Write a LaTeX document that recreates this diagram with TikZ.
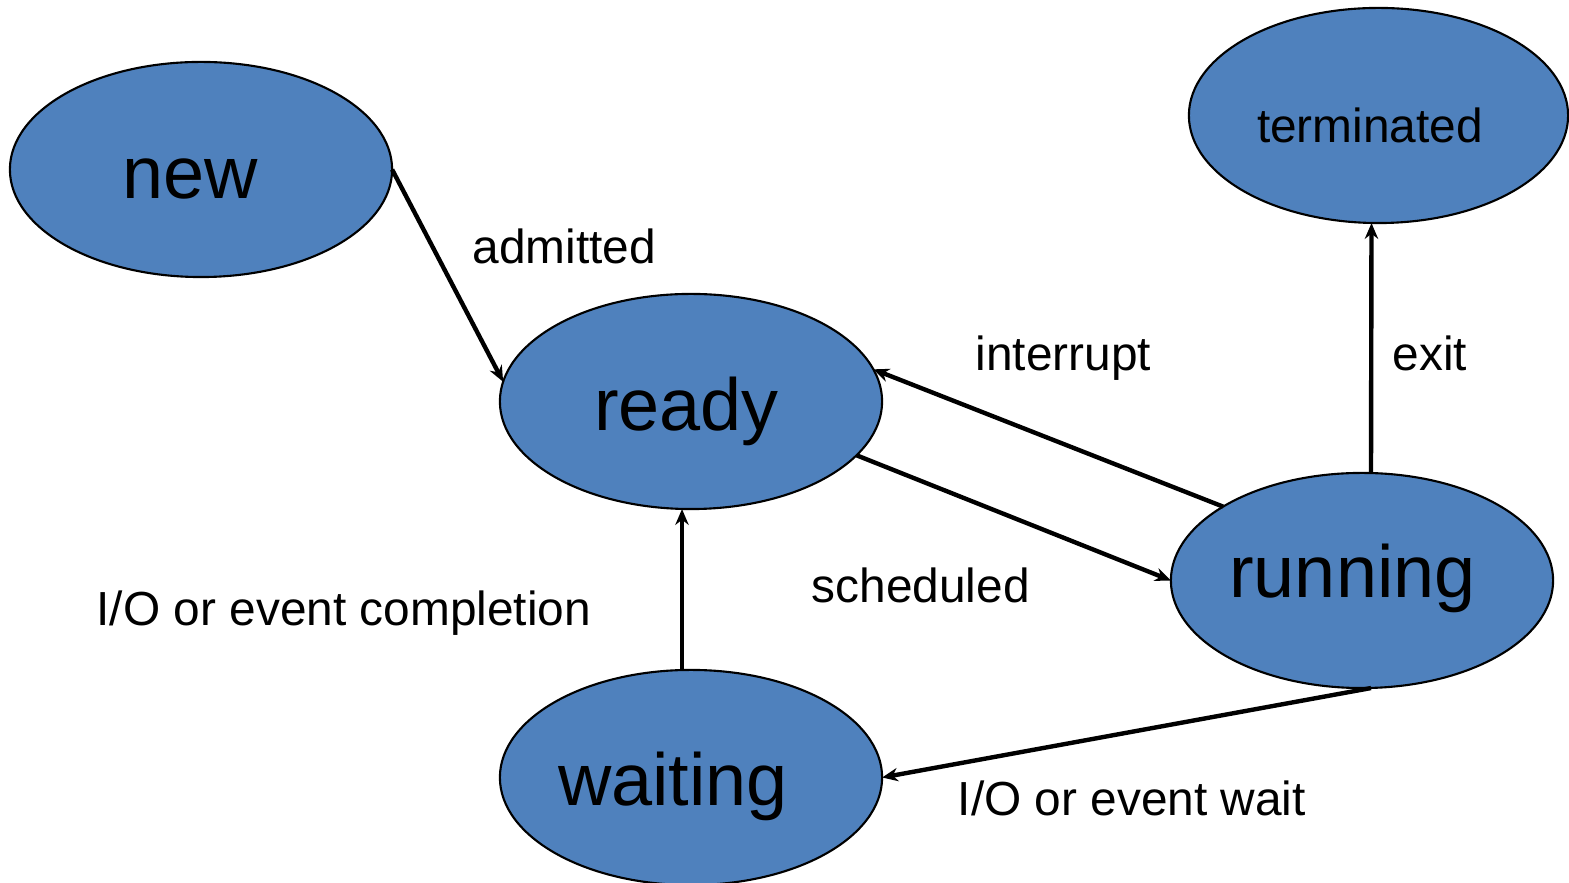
\documentclass[tikz,border=0pt]{standalone}
\usepackage{fontspec}
\setmainfont{Liberation Sans}
\usepackage{xcolor}
\usepackage{tikz}
\usetikzlibrary{shapes,arrows,positioning,calc,arrows.meta}
\definecolor{stateblue}{RGB}{79,129,189}

\begin{document}
\begin{tikzpicture}[x=0.01cm,y=-0.01cm,
    state/.style={ellipse, draw=black, line width=0.6pt, fill=stateblue,
        minimum width=3.82cm, minimum height=2.15cm, inner sep=0pt, outer sep=0pt},
    bigtext/.style={inner sep=0pt, text height=0pt, text depth=0pt, font=\fontsize{21}{21}\selectfont},
    smalltext/.style={inner sep=0pt, text height=0pt, text depth=0pt, font=\fontsize{13.6}{13.6}\selectfont},
    trans/.style={-{Stealth[length=4.5pt,width=3.8pt]}, line width=1.25pt},
    lbl/.style={anchor=base west, inner sep=0pt, font=\fontsize{13.6}{13.6}\selectfont}]
    \useasboundingbox (0,0) rectangle (1569,883);

    % States
    \node[state, label={[bigtext, xshift=-0.11cm, yshift=-0.285cm]center:new}] (new) at (201,169.5) {};
    \node[state, label={[bigtext, xshift=-0.045cm, yshift=-0.285cm]center:ready}] (ready) at (691,401.5) {};
    \node[state, minimum width=3.79cm,
        label={[smalltext, xshift=-0.085cm, yshift=-0.265cm]center:terminated}] (terminated) at (1378.5,115.5) {};
    \node[state, label={[bigtext, xshift=-0.095cm, yshift=-0.165cm]center:running}] (running) at (1362,580.5) {};
    \node[state, label={[bigtext, xshift=-0.18cm, yshift=-0.275cm]center:waiting}] (waiting) at (691,777.5) {};

    % Transitions
    \draw[trans] (new.east) -- (ready.174);
    \draw[trans] (running.152) -- (ready.10);
    \draw[trans] (ready.-18) -- (running.west);
    \draw[trans] ($(running.north)+(9,0)$) -- ($(terminated.south)+(-7,0)$);
    \draw[trans] ($(waiting.north)+(-9,0)$) -- ($(ready.south)+(-9,0)$);
    \draw[trans] ($(running.south)+(9,0)$) -- (waiting.east);

    % Labels
    \node[lbl] (admittedlbl) at (472,264) {admitted};
    \node[lbl] (interruptlbl) at (975,371) {interrupt};
    \node[lbl] (exitlbl) at (1392,371) {exit};
    \node[lbl] (scheduledlbl) at (811,603) {scheduled};
    \node[lbl] (completionlbl) at (96,626) {I/O or event completion};
    \node[lbl] (waitlbl) at (957,816) {I/O or event wait};
\end{tikzpicture}
\end{document}
